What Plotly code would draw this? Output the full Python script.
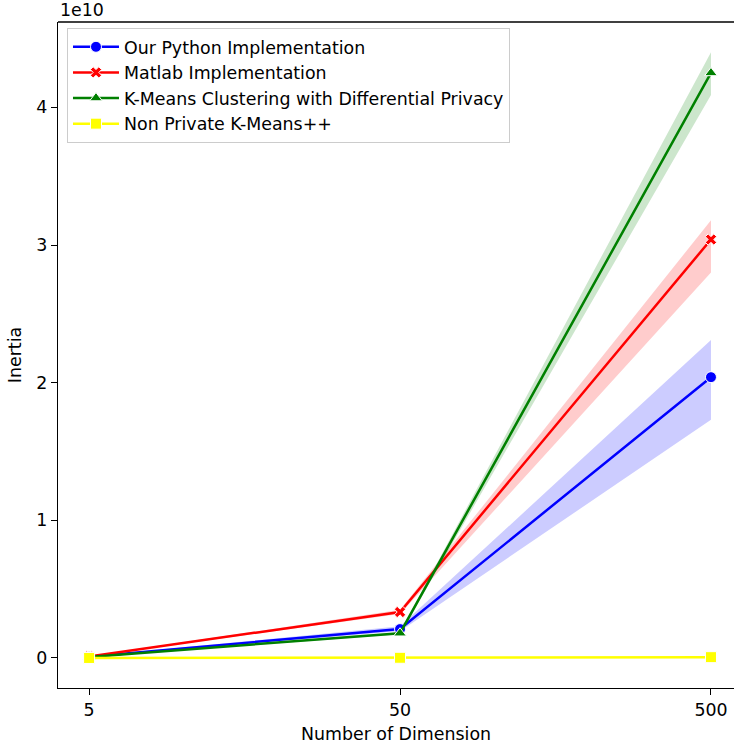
import plotly.graph_objects as go

# Number of dimensions on the x axis
dims = [5, 50, 500]

# Mean inertia per method, with the lower / upper bounds of the shaded interval
python_mean = [9e7, 2.1e9, 2.04e10]
python_low = [8e7, 1.95e9, 1.73e10]
python_high = [1.0e8, 2.3e9, 2.31e10]

matlab_mean = [1.1e8, 3.34e9, 3.04e10]
matlab_low = [1.0e8, 3.2e9, 2.80e10]
matlab_high = [1.2e8, 3.5e9, 3.18e10]

dp_mean = [8e7, 1.8e9, 4.25e10]
dp_low = [7e7, 1.72e9, 4.09e10]
dp_high = [9e7, 1.88e9, 4.40e10]

kpp_mean = [2e6, 1.5e7, 6e7]
kpp_low = [1e6, 1.2e7, 5e7]
kpp_high = [3e6, 1.8e7, 7e7]

series_names = [
    "Our Python Implementation",
    "Matlab Implementation",
    "K-Means Clustering with Differential Privacy",
    "Non Private K-Means++",
]

y_tick_vals = [0, 1e10, 2e10, 3e10, 4e10]
y_tick_text = ["0", "1", "2", "3", "4"]
x_tick_text = ["5", "50", "500"]

FONT = "DejaVu Sans"
FS = 17.4

series = [
    (series_names[0], python_mean, python_low, python_high, "#0000ff", "rgba(0,0,255,0.2)", "circle", 11),
    (series_names[1], matlab_mean, matlab_low, matlab_high, "#ff0000", "rgba(255,0,0,0.2)", "x", 10),
    (series_names[2], dp_mean, dp_low, dp_high, "#008000", "rgba(0,128,0,0.2)", "triangle-up", 11),
    (series_names[3], kpp_mean, kpp_low, kpp_high, "#ffff00", "rgba(255,255,0,0.2)", "square", 11),
]

fig = go.Figure()
for i, (name, mean, low, high, color, fill, symbol, msize) in enumerate(series):
    # shaded interval band
    fig.add_trace(go.Scatter(
        x=dims + dims[::-1],
        y=high + low[::-1],
        fill="toself",
        fillcolor=fill,
        line=dict(width=0),
        mode="lines",
        hoverinfo="skip",
        showlegend=False,
        legendgroup=f"g{i}",
    ))
    # mean line with markers
    fig.add_trace(go.Scatter(
        x=dims,
        y=mean,
        mode="lines+markers",
        name=name,
        line=dict(color=color, width=2.5),
        marker=dict(symbol=symbol, size=msize, color=color,
                    line=dict(color="white", width=1)),
        legendgroup=f"g{i}",
    ))

fig.update_layout(
    width=734,
    height=744,
    margin=dict(l=58, r=0, t=22, b=56),
    paper_bgcolor="white",
    plot_bgcolor="white",
    font=dict(family=FONT, size=FS, color="black"),
    showlegend=True,
    legend=dict(
        x=0.0133, y=0.991, xanchor="left", yanchor="top",
        bgcolor="rgba(255,255,255,0.8)",
        bordercolor="#cccccc", borderwidth=1,
        font=dict(family=FONT, size=FS),
        tracegroupgap=0,
        itemwidth=46,
    ),
    xaxis=dict(
        type="log",
        range=[0.599, 2.773],
        tickvals=dims,
        ticktext=x_tick_text,
        showgrid=False, zeroline=False,
        showline=True, linecolor="black", linewidth=1.3,
        ticks="outside", ticklen=6, tickwidth=1.3, tickcolor="black",
        title=dict(text="Number of Dimension", font=dict(size=FS), standoff=8),
    ),
    yaxis=dict(
        range=[-0.218e10, 4.62e10],
        tickvals=y_tick_vals,
        ticktext=y_tick_text,
        showgrid=False, zeroline=False,
        showline=True, linecolor="black", linewidth=1.3,
        ticks="outside", ticklen=6, tickwidth=1.3, tickcolor="black",
        title=dict(text="Inertia", font=dict(size=FS), standoff=10),
    ),
    shapes=[dict(type="line", xref="paper", yref="paper", x0=0, x1=1, y0=1, y1=1,
                 line=dict(color="black", width=1.3))],
    annotations=[dict(text="1e10", xref="paper", yref="paper", x=0, y=1,
                      xanchor="left", yanchor="bottom", showarrow=False,
                      font=dict(family=FONT, size=FS), yshift=0)],
)

fig.write_html("out.html")
